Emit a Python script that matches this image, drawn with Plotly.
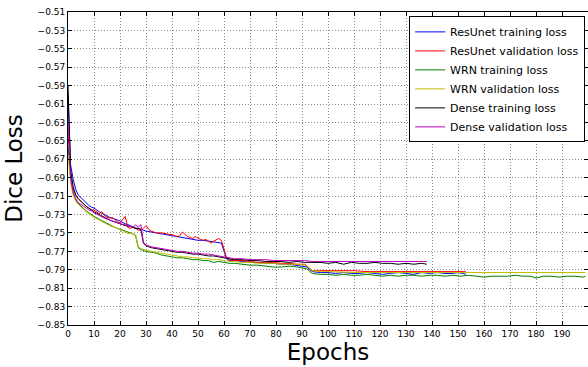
import plotly.graph_objects as go

# ---------------- data ----------------
resunet_train_epochs = [0,1,2,3,4,5,6,7,8,9,10,12,14,16,18,20,22,24,26,28,30,32,34,36,38,40,42,44,46,48,50,52,54,56,58,59,60,61,62,64,67,70,73,76,79,82,85,88,91,92,93,94,97,100,103,106,109,112,115,118,121,124,127,130,133,136,139,142,145,148,150,152,153]
resunet_train_loss = [-0.600,-0.676,-0.692,-0.703,-0.709,-0.712,-0.715,-0.718,-0.720,-0.722,-0.723,-0.727,-0.730,-0.733,-0.735,-0.737,-0.740,-0.742,-0.745,-0.746,-0.748,-0.749,-0.750,-0.751,-0.752,-0.753,-0.754,-0.755,-0.756,-0.757,-0.758,-0.758,-0.759,-0.760,-0.761,-0.761,-0.770,-0.778,-0.780,-0.780,-0.781,-0.782,-0.782,-0.783,-0.783,-0.784,-0.784,-0.785,-0.786,-0.787,-0.790,-0.792,-0.793,-0.793,-0.794,-0.793,-0.794,-0.794,-0.793,-0.794,-0.795,-0.794,-0.793,-0.794,-0.795,-0.793,-0.794,-0.793,-0.794,-0.794,-0.793,-0.794,-0.795]

resunet_val_epochs = [0,1,2,3,4,5,6,7,8,9,10,11,12,13,14,15,16,17,18,19,20,21,22,23,24,25,26,27,28,29,30,31,32,33,34,36,38,40,42,43,44,45,46,47,48,49,50,51,52,53,54,55,56,57,58,59,60,61,62,64,67,70,73,76,79,82,85,88,91,92,93,94,97,100,105,110,115,120,125,130,135,140,145,150,153]
resunet_val_loss = [-0.640,-0.688,-0.702,-0.709,-0.713,-0.716,-0.719,-0.721,-0.723,-0.725,-0.725,-0.727,-0.729,-0.727,-0.731,-0.733,-0.734,-0.733,-0.736,-0.738,-0.739,-0.736,-0.732,-0.744,-0.745,-0.744,-0.745,-0.747,-0.747,-0.745,-0.742,-0.746,-0.748,-0.749,-0.750,-0.750,-0.751,-0.752,-0.754,-0.753,-0.749,-0.752,-0.754,-0.755,-0.756,-0.754,-0.756,-0.757,-0.758,-0.757,-0.759,-0.761,-0.759,-0.757,-0.756,-0.758,-0.768,-0.777,-0.779,-0.780,-0.780,-0.781,-0.782,-0.782,-0.782,-0.783,-0.783,-0.784,-0.784,-0.786,-0.789,-0.791,-0.791,-0.791,-0.791,-0.791,-0.792,-0.792,-0.792,-0.792,-0.792,-0.792,-0.792,-0.792,-0.792]

wrn_train_epochs = [0,1,2,3,4,5,6,7,8,9,10,12,14,16,18,20,22,24,25,26,27,28,30,32,34,36,38,40,42,44,46,48,50,52,54,56,58,60,62,64,67,70,73,76,79,82,85,88,91,92,93,94,97,100,103,106,109,112,115,118,121,124,127,130,133,136,139,142,145,148,151,154,157,160,163,166,169,172,175,178,180,183,186,189,192,195,198,199]
wrn_train_loss = [-0.655,-0.692,-0.707,-0.714,-0.718,-0.721,-0.724,-0.726,-0.728,-0.730,-0.732,-0.735,-0.738,-0.741,-0.744,-0.746,-0.748,-0.750,-0.751,-0.753,-0.766,-0.768,-0.770,-0.771,-0.772,-0.774,-0.775,-0.776,-0.777,-0.777,-0.778,-0.779,-0.779,-0.780,-0.780,-0.782,-0.781,-0.782,-0.783,-0.783,-0.784,-0.785,-0.785,-0.786,-0.787,-0.787,-0.786,-0.787,-0.788,-0.789,-0.792,-0.794,-0.795,-0.795,-0.796,-0.795,-0.796,-0.796,-0.795,-0.796,-0.797,-0.796,-0.797,-0.796,-0.796,-0.797,-0.796,-0.796,-0.797,-0.796,-0.797,-0.796,-0.797,-0.798,-0.797,-0.797,-0.797,-0.796,-0.797,-0.797,-0.799,-0.797,-0.797,-0.798,-0.797,-0.797,-0.798,-0.797]

wrn_val_epochs = [0,1,2,3,4,5,6,7,8,9,10,12,14,16,18,20,21,22,23,24,25,26,27,28,30,32,34,36,38,40,42,44,46,48,50,52,54,56,58,60,62,64,67,70,73,76,79,82,85,88,91,92,93,94,97,100,110,120,130,140,150,160,170,180,190,199]
wrn_val_loss = [-0.665,-0.695,-0.709,-0.716,-0.719,-0.722,-0.725,-0.727,-0.729,-0.731,-0.733,-0.736,-0.739,-0.742,-0.744,-0.746,-0.750,-0.748,-0.751,-0.750,-0.751,-0.752,-0.765,-0.767,-0.769,-0.770,-0.771,-0.772,-0.773,-0.774,-0.775,-0.776,-0.776,-0.777,-0.777,-0.778,-0.778,-0.779,-0.779,-0.780,-0.781,-0.781,-0.782,-0.782,-0.783,-0.783,-0.783,-0.784,-0.784,-0.784,-0.785,-0.786,-0.789,-0.791,-0.792,-0.792,-0.793,-0.793,-0.793,-0.793,-0.793,-0.793,-0.793,-0.793,-0.793,-0.793]

dense_train_epochs = [0,1,2,3,4,5,6,7,8,9,10,12,14,16,18,20,22,24,26,27,28,29,30,32,34,36,38,40,42,44,46,48,50,52,54,56,58,60,62,64,67,70,73,76,79,82,85,88,91,94,97,100,103,106,109,112,115,118,121,124,127,130,133,136,138]
dense_train_loss = [-0.590,-0.682,-0.700,-0.709,-0.713,-0.716,-0.719,-0.721,-0.723,-0.725,-0.727,-0.730,-0.733,-0.736,-0.738,-0.740,-0.742,-0.743,-0.745,-0.745,-0.746,-0.761,-0.764,-0.766,-0.767,-0.768,-0.769,-0.770,-0.771,-0.771,-0.772,-0.773,-0.773,-0.774,-0.775,-0.775,-0.776,-0.777,-0.778,-0.779,-0.779,-0.780,-0.780,-0.781,-0.781,-0.781,-0.782,-0.781,-0.782,-0.782,-0.782,-0.783,-0.782,-0.784,-0.782,-0.783,-0.783,-0.782,-0.783,-0.783,-0.784,-0.783,-0.784,-0.783,-0.784]

dense_val_epochs = [0,1,2,3,4,5,6,7,8,9,10,12,14,16,18,20,22,24,25,26,27,28,29,30,32,34,36,38,40,42,44,46,48,50,52,54,56,58,60,62,64,67,70,73,76,79,82,85,88,91,94,97,100,105,110,115,120,125,130,135,138]
dense_val_loss = [-0.625,-0.690,-0.706,-0.713,-0.717,-0.719,-0.721,-0.723,-0.725,-0.726,-0.728,-0.731,-0.734,-0.736,-0.738,-0.740,-0.741,-0.743,-0.744,-0.741,-0.744,-0.741,-0.760,-0.763,-0.765,-0.766,-0.767,-0.768,-0.769,-0.770,-0.770,-0.771,-0.772,-0.772,-0.773,-0.773,-0.774,-0.775,-0.776,-0.777,-0.778,-0.778,-0.779,-0.779,-0.779,-0.780,-0.780,-0.780,-0.780,-0.780,-0.781,-0.781,-0.781,-0.781,-0.781,-0.781,-0.781,-0.781,-0.781,-0.781,-0.781]

series_names = ["ResUnet training loss", "ResUnet validation loss", "WRN training loss",
                "WRN validation loss", "Dense training loss", "Dense validation loss"]
series_colors = ["#0000ff", "#ff0000", "#008000", "#bfbf00", "#000000", "#bf00bf"]

x_tick_values = list(range(0, 200, 10))
y_tick_values = [-0.85, -0.83, -0.81, -0.79, -0.77, -0.75, -0.73, -0.71, -0.69, -0.67,
                 -0.65, -0.63, -0.61, -0.59, -0.57, -0.55, -0.53, -0.51]

# ---------------- figure ----------------
series = [
    (resunet_train_epochs, resunet_train_loss),
    (resunet_val_epochs, resunet_val_loss),
    (wrn_train_epochs, wrn_train_loss),
    (wrn_val_epochs, wrn_val_loss),
    (dense_train_epochs, dense_train_loss),
    (dense_val_epochs, dense_val_loss),
]

fig = go.Figure()
for (ex, ey), name, color in zip(series, series_names, series_colors):
    fig.add_trace(go.Scatter(x=ex, y=ey, mode="lines", name=name,
                             line=dict(color=color, width=1)))

font_family = "DejaVu Sans, sans-serif"
fig.update_layout(
    width=588, height=367,
    margin=dict(l=68, r=0, t=12, b=42),
    paper_bgcolor="white", plot_bgcolor="white",
    font=dict(family=font_family, color="black", size=9),
    showlegend=True,
    legend=dict(
        x=0.656, y=0.986, xanchor="left", yanchor="top",
        bgcolor="white", bordercolor="black", borderwidth=1,
        font=dict(size=11, family=font_family),
        tracegroupgap=0,
    ),
)
fig.update_xaxes(
    range=[0, 200], tickvals=x_tick_values,
    showline=True, linecolor="black", linewidth=1, mirror="ticks",
    ticks="inside", ticklen=4, tickcolor="black",
    showgrid=True, gridcolor="#8c8c8c", griddash="1px,2px", gridwidth=1,
    zeroline=False,
    title=dict(text="Epochs", font=dict(size=23, family=font_family), standoff=6),
)
fig.update_yaxes(
    range=[-0.85, -0.51], tickvals=y_tick_values, tickformat=".2f",
    showline=True, linecolor="black", linewidth=1, mirror="ticks",
    ticks="inside", ticklen=4, tickcolor="black",
    showgrid=True, gridcolor="#8c8c8c", griddash="1px,2px", gridwidth=1,
    zeroline=False,
    title=dict(text="Dice Loss", font=dict(size=23, family=font_family), standoff=8),
)

fig.write_html("out.html", config={"displayModeBar": False},
               post_script="document.body.style.margin='0';")
